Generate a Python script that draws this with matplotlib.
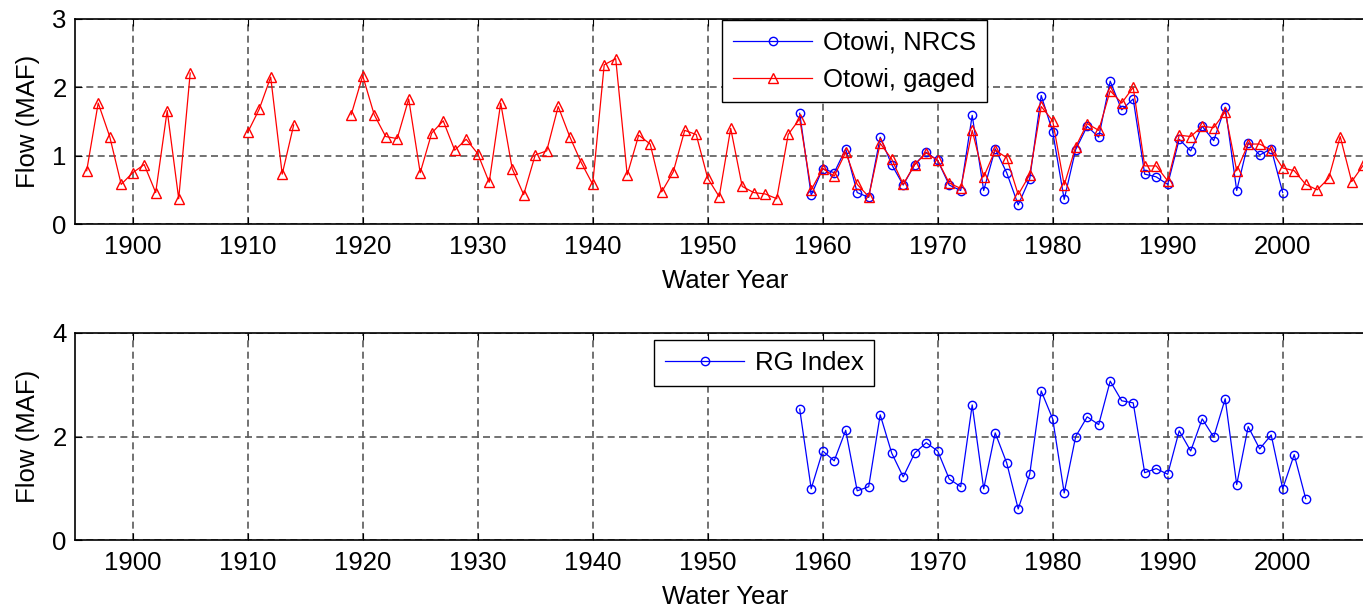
import numpy as np
import matplotlib
matplotlib.use("Agg")
import matplotlib.pyplot as plt

plt.rcParams['font.family'] = ['Liberation Sans', 'DejaVu Sans']

nan = np.nan

# Otowi gaged flow, water years 1896-2007 (gaps where no record)
years_gaged = np.arange(1896, 2008)
flow_gaged = [
    0.78, 1.77, 1.28, 0.58, 0.75, 0.87, 0.46, 1.66, 0.37, 2.21,   # 1896-1905
    nan, nan, nan, nan,                                           # 1906-1909
    1.34, 1.68, 2.15, 0.73, 1.45,                                 # 1910-1914
    nan, nan, nan, nan,                                           # 1915-1918
    1.60, 2.17, 1.60, 1.28, 1.25, 1.83, 0.75, 1.33, 1.51, 1.08,   # 1919-1928
    1.24, 1.03, 0.61, 1.77, 0.81, 0.43, 1.01, 1.07, 1.72, 1.28,   # 1929-1938
    0.90, 0.58, 2.33, 2.42, 0.72, 1.30, 1.17, 0.47, 0.76, 1.37,   # 1939-1948
    1.31, 0.67, 0.40, 1.40, 0.55, 0.46, 0.44, 0.37, 1.31, 1.54,   # 1949-1958
    0.50, 0.81, 0.70, 1.05, 0.58, 0.40, 1.18, 0.95, 0.58, 0.87,   # 1959-1968
    1.04, 0.93, 0.60, 0.52, 1.37, 0.69, 1.08, 0.97, 0.43, 0.72,   # 1969-1978
    1.72, 1.51, 0.57, 1.13, 1.47, 1.37, 1.95, 1.77, 2.00, 0.85,   # 1979-1988
    0.85, 0.63, 1.30, 1.28, 1.43, 1.41, 1.64, 0.78, 1.17, 1.17,   # 1989-1998
    1.08, 0.82, 0.78, 0.58, 0.50, 0.67, 1.28, 0.62, 0.86,         # 1999-2007
]

# Otowi NRCS, 1958-2000
years_nrcs = np.arange(1958, 2001)
flow_nrcs = [
    1.62, 0.42, 0.81, 0.75, 1.10, 0.46, 0.39, 1.27, 0.87, 0.57,
    0.87, 1.05, 0.93, 0.57, 0.49, 1.59, 0.49, 1.10, 0.75, 0.28,
    0.66, 1.88, 1.35, 0.36, 1.09, 1.43, 1.27, 2.09, 1.67, 1.83,
    0.73, 0.69, 0.58, 1.24, 1.07, 1.43, 1.22, 1.71, 0.49, 1.19,
    1.01, 1.10, 0.46,
]

# RG Index, 1958-2002
years_rg = np.arange(1958, 2003)
flow_rg = [
    2.53, 0.99, 1.72, 1.53, 2.12, 0.95, 1.03, 2.42, 1.68, 1.22,
    1.68, 1.88, 1.72, 1.18, 1.03, 2.61, 0.99, 2.07, 1.49, 0.60,
    1.27, 2.88, 2.34, 0.91, 2.00, 2.38, 2.23, 3.07, 2.69, 2.65,
    1.30, 1.38, 1.27, 2.11, 1.72, 2.34, 1.99, 2.73, 1.07, 2.19,
    1.76, 2.03, 0.99, 1.65, 0.80,
]

FS = 18.5
W, H = 1363, 608
fig = plt.figure(figsize=(W / 100, H / 100), dpi=100)

# axes run a little past the right edge of the figure
left = 75.2 / W
width = 1299.5 / W
ax1 = fig.add_axes([left, (H - 224) / H, width, 205 / H])
ax2 = fig.add_axes([left, (H - 540) / H, width, 207 / H])


def style(ax):
    ax.set_xlim(1895, 2008)
    ax.set_xticks(np.arange(1900, 2010, 10))
    ax.grid(True, color='#5a5a5a', linestyle=(0, (4.2, 2.6)), linewidth=1.2)
    ax.tick_params(direction='in', length=5, width=0.8, top=True, right=True,
                   labelsize=FS)
    ax.tick_params(axis='x', pad=8)
    ax.tick_params(axis='y', pad=6)
    for s in ax.spines.values():
        s.set_linewidth(1.2)
    ax.set_xlabel('Water Year', fontsize=FS, labelpad=7)
    ax.set_ylabel('Flow (MAF)', fontsize=FS, labelpad=9)


ax1.plot(years_nrcs, flow_nrcs, color='b', marker='o', markerfacecolor='none',
         markersize=6, linewidth=0.9, label='Otowi, NRCS')
ax1.plot(years_gaged, flow_gaged, color='r', marker='^', markerfacecolor='none',
         markersize=6.5, linewidth=0.9, label='Otowi, gaged')
ax1.set_ylim(0, 3)
ax1.set_yticks([0, 1, 2, 3])
style(ax1)
leg1 = ax1.legend(loc='upper left', bbox_to_anchor=(722 / W, 1 - 20 / H),
                  bbox_transform=fig.transFigure, fontsize=FS, fancybox=False,
                  edgecolor='black', framealpha=1, handlelength=3.1,
                  handletextpad=0.4, borderpad=0.42, labelspacing=0.5,
                  borderaxespad=0)
leg1.get_frame().set_linewidth(1.0)

ax2.plot(years_rg, flow_rg, color='b', marker='o', markerfacecolor='none',
         markersize=6, linewidth=0.9, label='RG Index')
ax2.set_ylim(0, 4)
ax2.set_yticks([0, 2, 4])
style(ax2)
leg2 = ax2.legend(loc='upper left', bbox_to_anchor=(654 / W, 1 - 340 / H),
                  bbox_transform=fig.transFigure, fontsize=FS, fancybox=False,
                  edgecolor='black', framealpha=1, handlelength=3.1,
                  handletextpad=0.4, borderpad=0.42, borderaxespad=0)
leg2.get_frame().set_linewidth(1.0)

fig.savefig('out.png', dpi=100)
